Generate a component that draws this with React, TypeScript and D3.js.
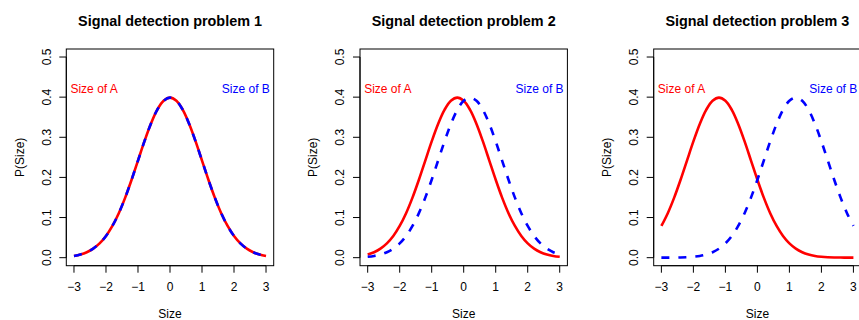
import React from 'react';
import * as d3 from 'd3';

// x grid shared by every curve
const sizes = [-3, -2.8, -2.6, -2.4, -2.2, -2, -1.8, -1.6, -1.4, -1.2, -1, -0.8, -0.6, -0.4, -0.2, 0,
  0.2, 0.4, 0.6, 0.8, 1, 1.2, 1.4, 1.6, 1.8, 2, 2.2, 2.4, 2.6, 2.8, 3];

// problem 1: both distributions centred on 0
const p1A = [0.0044, 0.0079, 0.0136, 0.0224, 0.0355, 0.054, 0.079, 0.1109, 0.1497, 0.1942, 0.242, 0.2897, 0.3332, 0.3683, 0.391, 0.3989,
  0.391, 0.3683, 0.3332, 0.2897, 0.242, 0.1942, 0.1497, 0.1109, 0.079, 0.054, 0.0355, 0.0224, 0.0136, 0.0079, 0.0044];
const p1B = [0.0044, 0.0079, 0.0136, 0.0224, 0.0355, 0.054, 0.079, 0.1109, 0.1497, 0.1942, 0.242, 0.2897, 0.3332, 0.3683, 0.391, 0.3989,
  0.391, 0.3683, 0.3332, 0.2897, 0.242, 0.1942, 0.1497, 0.1109, 0.079, 0.054, 0.0355, 0.0224, 0.0136, 0.0079, 0.0044];

// problem 2: A around -0.2, B around 0.2
const p2A = [0.0079, 0.0136, 0.0224, 0.0355, 0.054, 0.079, 0.1109, 0.1497, 0.1942, 0.242, 0.2897, 0.3332, 0.3683, 0.391, 0.3989, 0.391,
  0.3683, 0.3332, 0.2897, 0.242, 0.1942, 0.1497, 0.1109, 0.079, 0.054, 0.0355, 0.0224, 0.0136, 0.0079, 0.0044, 0.0024];
const p2B = [0.0024, 0.0044, 0.0079, 0.0136, 0.0224, 0.0355, 0.054, 0.079, 0.1109, 0.1497, 0.1942, 0.242, 0.2897, 0.3332, 0.3683, 0.391,
  0.3989, 0.391, 0.3683, 0.3332, 0.2897, 0.242, 0.1942, 0.1497, 0.1109, 0.079, 0.054, 0.0355, 0.0224, 0.0136, 0.0079];

// problem 3: A around -1.2, B around 1.2
const p3A = [0.079, 0.1109, 0.1497, 0.1942, 0.242, 0.2897, 0.3332, 0.3683, 0.391, 0.3989, 0.391, 0.3683, 0.3332, 0.2897, 0.242, 0.1942,
  0.1497, 0.1109, 0.079, 0.054, 0.0355, 0.0224, 0.0136, 0.0079, 0.0044, 0.0024, 0.0012, 0.0006, 0.0003, 0.0001, 0.0001];
const p3B = [0.0001, 0.0001, 0.0003, 0.0006, 0.0012, 0.0024, 0.0044, 0.0079, 0.0136, 0.0224, 0.0355, 0.054, 0.079, 0.1109, 0.1497, 0.1942,
  0.242, 0.2897, 0.3332, 0.3683, 0.391, 0.3989, 0.391, 0.3683, 0.3332, 0.2897, 0.242, 0.1942, 0.1497, 0.1109, 0.079];

const titles = ['Signal detection problem 1', 'Signal detection problem 2', 'Signal detection problem 3'];
const seriesA = [p1A, p2A, p3A];
const seriesB = [p1B, p2B, p3B];
const xTicks = [-3, -2, -1, 0, 1, 2, 3];
const yTicks = [0, 0.1, 0.2, 0.3, 0.4, 0.5];
const labelA = 'Size of A';
const labelB = 'Size of B';

const W = 859;
const H = 320;
const FONT = '"Liberation Sans", Arial, Helvetica, sans-serif';

const panelLeft = [66.3, 360, 653.7];
const boxW = 207.4;
const boxTop = 49;
const boxBottom = 265.7;

const Panel = ({ i }: { i: number }) => {
  const left = panelLeft[i];
  const x = d3.scaleLinear().domain([-3.24, 3.24]).range([left, left + boxW]);
  const y = d3.scaleLinear().domain([-0.02, 0.52]).range([boxBottom, boxTop]);

  const line = d3.line<number>()
    .x((_, k) => x(sizes[k]))
    .y(d => y(d))
    .curve(d3.curveCatmullRom);

  return (
    <g>
      <text x={left + boxW / 2} y={26} textAnchor="middle" fontWeight="bold" fontSize={14.4} fontFamily={FONT}>
        {titles[i]}
      </text>

      <path d={line(seriesA[i]) || ''} fill="none" stroke="#ff0000" strokeWidth={2.6} />
      <path d={line(seriesB[i]) || ''} fill="none" stroke="#0000ff" strokeWidth={2.6} strokeDasharray="8 9" />

      <text x={x(-2.37)} y={y(0.42)} dy="0.35em" textAnchor="middle" fill="#ff0000" fontSize={12} fontFamily={FONT}>{labelA}</text>
      <text x={x(2.37)} y={y(0.42)} dy="0.35em" textAnchor="middle" fill="#0000ff" fontSize={12} fontFamily={FONT}>{labelB}</text>

      <rect x={left} y={boxTop} width={boxW} height={boxBottom - boxTop} fill="none" stroke="#000" strokeWidth={1} />

      {/* x axis */}
      <line x1={x(-3)} x2={x(3)} y1={boxBottom} y2={boxBottom} stroke="#000" />
      {xTicks.map(t => (
        <g key={t}>
          <line x1={x(t)} x2={x(t)} y1={boxBottom} y2={boxBottom + 7} stroke="#000" />
          <text x={x(t)} y={291} textAnchor="middle" fontSize={12} fontFamily={FONT}>{t < 0 ? '\u2212' + Math.abs(t) : t}</text>
        </g>
      ))}
      <text x={x(0)} y={317.5} textAnchor="middle" fontSize={12} fontFamily={FONT}>Size</text>

      {/* y axis */}
      <line x1={left} x2={left} y1={y(0)} y2={y(0.5)} stroke="#000" />
      {yTicks.map(t => (
        <g key={t}>
          <line x1={left - 7} x2={left} y1={y(t)} y2={y(t)} stroke="#000" />
          <text transform={`translate(${left - 20},${y(t)}) rotate(-90)`} dy="0.35em" textAnchor="middle" fontSize={12} fontFamily={FONT}>
            {t.toFixed(1)}
          </text>
        </g>
      ))}
      <text transform={`translate(${left - 47},${(boxTop + boxBottom) / 2}) rotate(-90)`} dy="0.35em" textAnchor="middle" fontSize={12} fontFamily={FONT}>
        P(Size)
      </text>
    </g>
  );
};

export default function App() {
  return (
    <svg width={W} height={H} style={{ position: 'fixed', left: 0, top: 0, background: '#fff' }}>
      <rect width={W} height={H} fill="#fff" />
      {[0, 1, 2].map(i => <Panel key={i} i={i} />)}
    </svg>
  );
}
